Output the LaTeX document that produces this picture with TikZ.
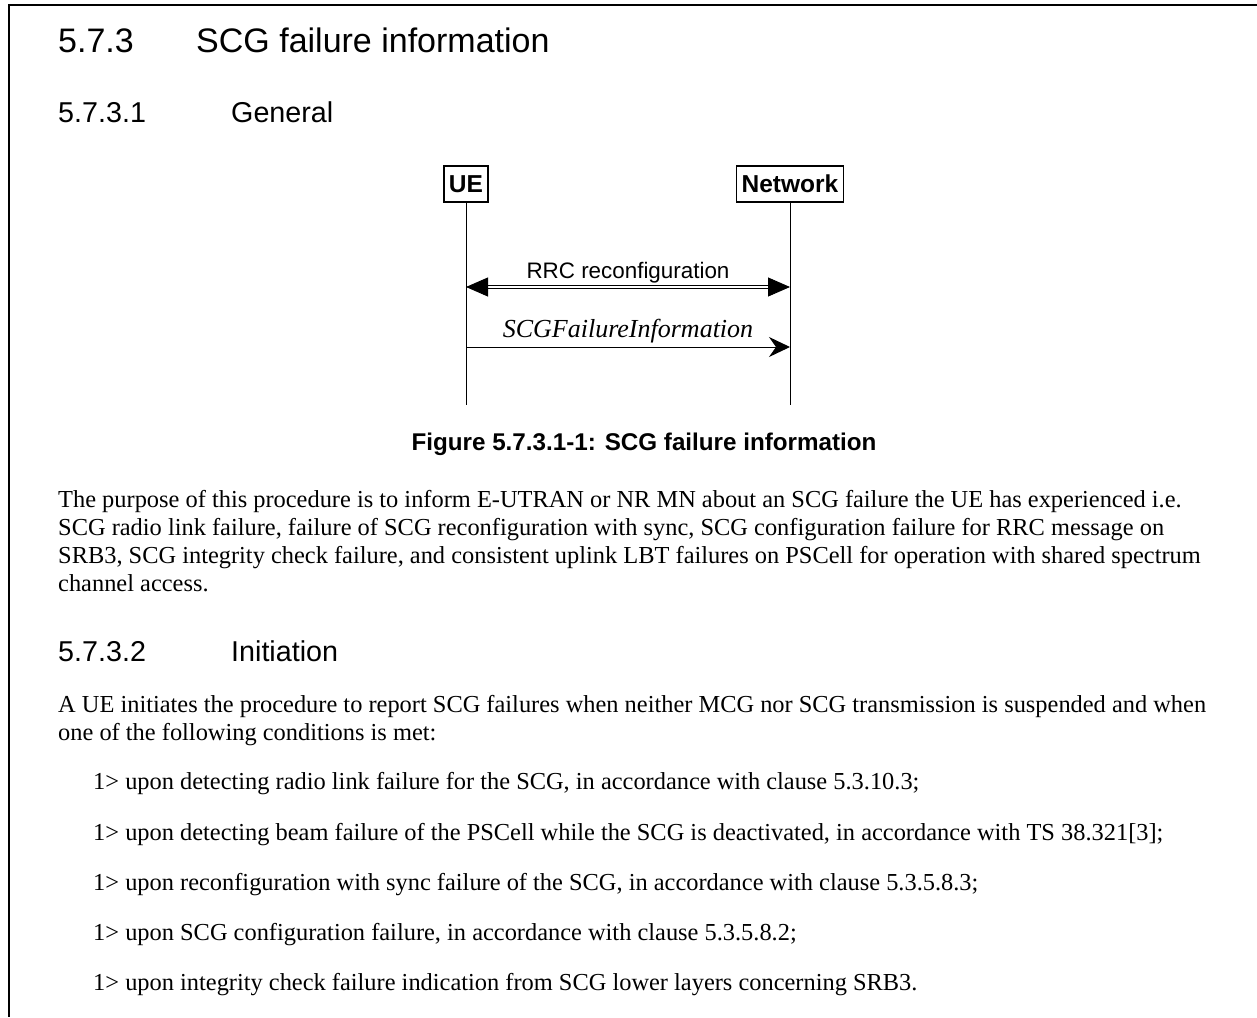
\documentclass[tikz,border=0pt]{standalone}
\usepackage{fontspec}
\setmainfont{Liberation Serif}
\newfontfamily\arialf{Liberation Sans}
\usetikzlibrary{arrows.meta}
\tikzset{
  hd/.style={anchor=base west, inner sep=0pt, font=\arialf\fontsize{34}{40}\selectfont},
  hdb/.style={anchor=base west, inner sep=0pt, font=\arialf\fontsize{28.7}{34}\selectfont},
  body/.style={anchor=base west, inner sep=0pt, font=\fontsize{24.4}{28}\selectfont},
  entity/.style={draw, line width=1.2pt, inner xsep=5pt, inner ysep=0pt, minimum height=36pt, font=\arialf\bfseries\fontsize{24.5}{28}\selectfont},
  life/.style={line width=1pt},
  msg/.style={font=\arialf\fontsize{22.4}{26}\selectfont, inner sep=0pt, anchor=base},
}
\begin{document}
\begin{tikzpicture}[x=1pt,y=-1pt]
\useasboundingbox (0,0) rectangle (1257,1017);
% frame
\coordinate (f1) at (1257,5);
\coordinate (f2) at (9,5);
\coordinate (f3) at (9,1017);
\draw[line width=2pt] (f1) -- (f2) -- (f3);
% headings
\node[hd] (h1a) at (58,52) {5.7.3};
\node[hd] (h1b) at (196,52) {SCG failure information};
\node[hdb] (h2a) at (58,122) {5.7.3.1};
\node[hdb] (h2b) at (231,122) {General};
% diagram
\node[entity] (ue) at (466,184) {UE};
\node[entity] (nw) at (790,184) {Network};
\coordinate (ueend) at (466,405);
\coordinate (nwend) at (790,405);
\draw[life] (ue.south) -- (ueend);
\draw[life] (nw.south) -- (nwend);
\coordinate (r1) at (466,287);
\coordinate (r2) at (790,287);
\draw[double, double distance=2.6pt, line width=0.9pt, {Triangle[length=22pt,width=19pt]}-{Triangle[length=22pt,width=19pt]}] (r1) -- (r2);
\node[msg] (rrc) at (628,278) {RRC reconfiguration};
\coordinate (s1) at (466,347);
\coordinate (s2) at (790,347);
\draw[line width=1pt, -{Stealth[length=21pt,width=20pt,inset=7pt]}] (s1) -- (s2);
\node[anchor=base, inner sep=0pt, font=\itshape\fontsize{26}{30}\selectfont] (scgf) at (628,337) {SCGFailureInformation};
\node[anchor=base, inner sep=0pt, font=\arialf\bfseries\fontsize{24.2}{28}\selectfont] (cap) at (644,450) {Figure 5.7.3.1-1: SCG failure information};
% paragraph
\node[body] (p1) at (58,507) {The purpose of this procedure is to inform E-UTRAN or NR MN about an SCG failure the UE has experienced i.e.};
\node[body] (p2) at (58,535) {SCG radio link failure, failure of SCG reconfiguration with sync, SCG configuration failure for RRC message on};
\node[body] (p3) at (58,563) {SRB3, SCG integrity check failure, and consistent uplink LBT failures on PSCell for operation with shared spectrum};
\node[body] (p4) at (58,591) {channel access.};
\node[hdb] (h3a) at (58,661) {5.7.3.2};
\node[hdb] (h3b) at (231,661) {Initiation};
\node[body] (q1) at (58,712) {A UE initiates the procedure to report SCG failures when neither MCG nor SCG transmission is suspended and when};
\node[body] (q2) at (58,740) {one of the following conditions is met:};
\node[body] (i1) at (93,789) {1> upon detecting radio link failure for the SCG, in accordance with clause 5.3.10.3;};
\node[body] (i2) at (93,840) {1> upon detecting beam failure of the PSCell while the SCG is deactivated, in accordance with TS 38.321[3];};
\node[body] (i3) at (93,890) {1> upon reconfiguration with sync failure of the SCG, in accordance with clause 5.3.5.8.3;};
\node[body] (i4) at (93,940) {1> upon SCG configuration failure, in accordance with clause 5.3.5.8.2;};
\node[body] (i5) at (93,990) {1> upon integrity check failure indication from SCG lower layers concerning SRB3.};
\end{tikzpicture}
\end{document}
